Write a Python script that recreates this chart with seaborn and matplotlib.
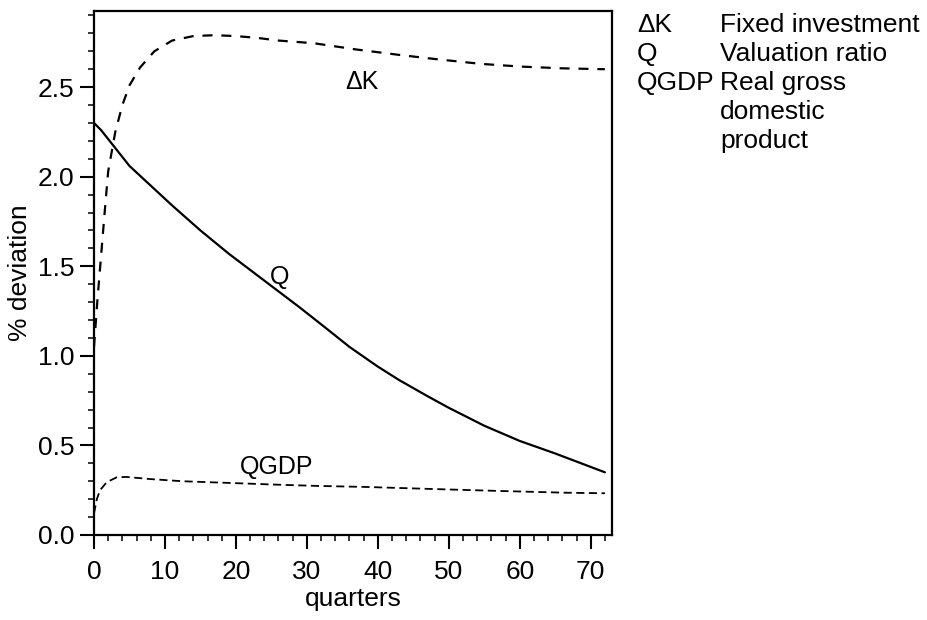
import matplotlib
matplotlib.use("Agg")
import matplotlib.pyplot as plt
from matplotlib.ticker import MultipleLocator
import seaborn as sns
import pandas as pd

# --- data ---
dk_x = [0, 0.5, 1, 1.5, 2, 3, 4, 5, 6.5, 8.5, 11, 14, 17, 20, 23, 26, 31, 37, 43, 48.5, 54.5, 60, 66, 72]
dk_y = [1.05, 1.32, 1.56, 1.80, 2.03, 2.25, 2.40, 2.51, 2.61, 2.70, 2.76, 2.785, 2.79, 2.785, 2.775,
        2.76, 2.745, 2.71, 2.68, 2.655, 2.63, 2.615, 2.605, 2.60]

q_x = [0, 1, 2, 3, 5, 8, 11, 15, 19, 22, 26, 29, 33, 36, 40, 43, 47, 50, 55, 60, 65, 72]
q_y = [2.30, 2.26, 2.21, 2.16, 2.06, 1.95, 1.84, 1.70, 1.57, 1.48, 1.36, 1.27, 1.145, 1.05, 0.94,
       0.865, 0.775, 0.71, 0.61, 0.525, 0.455, 0.35]

gdp_x = [0, 0.4, 0.85, 1.8, 3.2, 4.6, 8, 12.5, 19.5, 26.5, 31.5, 38.5, 47.5, 57, 66.5, 72]
gdp_y = [0.12, 0.20, 0.25, 0.295, 0.322, 0.324, 0.312, 0.30, 0.29, 0.28, 0.274, 0.268, 0.257,
         0.246, 0.236, 0.233]

x_ticks = [0, 10, 20, 30, 40, 50, 60, 70]
y_ticks = [0.0, 0.5, 1.0, 1.5, 2.0, 2.5]

legend_keys = ["\u0394K", "Q", "QGDP", "", ""]
legend_texts = ["Fixed investment", "Valuation ratio", "Real gross", "domestic", "product"]

# --- style ---
sns.set_style("ticks")
plt.rcParams["font.family"] = ["Liberation Sans", "DejaVu Sans"]
plt.rcParams["font.size"] = 19
plt.rcParams["text.color"] = "black"
plt.rcParams["axes.labelcolor"] = "black"

fig = plt.figure(figsize=(9.28, 6.2), dpi=100)
ax = fig.add_axes([94 / 928, 1 - 535 / 620, (612 - 94) / 928, (535 - 11) / 620])

df_dk = pd.DataFrame({"quarters": dk_x, "dev": dk_y})
df_q = pd.DataFrame({"quarters": q_x, "dev": q_y})
df_g = pd.DataFrame({"quarters": gdp_x, "dev": gdp_y})

sns.lineplot(data=df_dk, x="quarters", y="dev", ax=ax, color="black", linewidth=1.6,
             linestyle=(0, (4.5, 4)), estimator=None)
sns.lineplot(data=df_q, x="quarters", y="dev", ax=ax, color="black", linewidth=1.6,
             estimator=None)
sns.lineplot(data=df_g, x="quarters", y="dev", ax=ax, color="black", linewidth=1.3,
             linestyle=(0, (4.5, 2.5)), estimator=None)

ax.set_xlim(0, 73)
ax.set_ylim(0, 2.925)
ax.set_xticks(x_ticks)
ax.set_yticks(y_ticks)
ax.xaxis.set_minor_locator(MultipleLocator(2))
ax.yaxis.set_minor_locator(MultipleLocator(0.1))
ax.tick_params(which="major", direction="out", length=10, width=1.5, labelsize=19,
               colors="black", pad=6)
ax.tick_params(which="minor", direction="out", length=4.5, width=1.3)
ax.tick_params(axis="x", which="major", pad=8)
ax.tick_params(axis="y", which="major", pad=4)

for s in ax.spines.values():
    s.set_visible(True)
    s.set_linewidth(1.6)
    s.set_color("black")

ax.set_xlabel("quarters", fontsize=19, labelpad=2)
ax.set_ylabel("% deviation", fontsize=19, labelpad=4)

# curve labels
ax.text(37.7, 2.53, "\u0394K", fontsize=18, ha="center", va="center")
ax.text(26.1, 1.44, "Q", fontsize=18, ha="center", va="center")
ax.text(25.8, 0.38, "QGDP", fontsize=18, ha="center", va="center")

# legend text on the right
row_y = [25, 54, 83, 112, 141]
for k, t, yy in zip(legend_keys, legend_texts, row_y):
    fig.text(637 / 928, 1 - yy / 620, k, fontsize=19, ha="left", va="center")
    fig.text(720 / 928, 1 - yy / 620, t, fontsize=19, ha="left", va="center")

fig.savefig("out.png", dpi=100, facecolor="white")
